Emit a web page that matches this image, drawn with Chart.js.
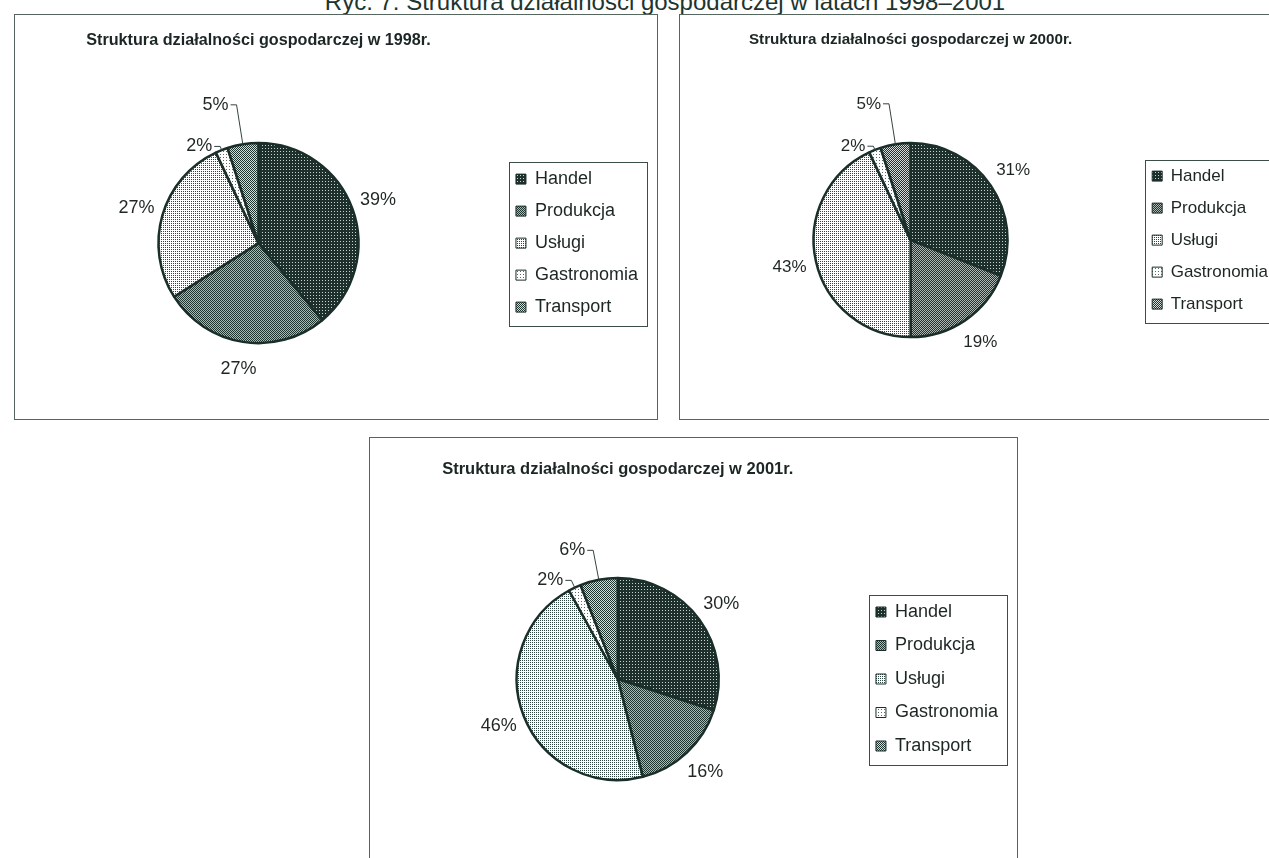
<!DOCTYPE html>
<html>
<head>
<meta charset="utf-8">
<script src="https://cdn.jsdelivr.net/npm/chart.js@4/dist/chart.umd.min.js"></script>
<style>
  html, body { margin:0; padding:0; background:#fff; }
  body { width:1269px; height:858px; overflow:hidden; position:relative; font-family:"Liberation Sans", Arial, sans-serif; }
  .panel { position:absolute; border:1px solid #56665f; box-sizing:border-box; background:#fff; overflow:hidden; }
  .panel canvas { position:absolute; left:0; top:0; }
  #caption { position:absolute; left:0; top:-12px; width:1330px; text-align:center; font-size:24px; color:#1d3530; white-space:nowrap; }
</style>
</head>
<body>
<div id="caption">Ryc. 7. Struktura działalności gospodarczej w latach 1998–2001</div>
<div class="panel" style="left:14px; top:14px; width:644px; height:406px;"><canvas id="c1" width="641" height="403"></canvas></div>
<div class="panel" style="left:679px; top:14px; width:640px; height:406px;"><canvas id="c2" width="620" height="403"></canvas></div>
<div class="panel" style="left:369px; top:437px; width:649px; height:480px;"><canvas id="c3" width="646" height="420"></canvas></div>
<script>
// ---- data ----
const categories = ['Handel', 'Produkcja', 'Usługi', 'Gastronomia', 'Transport'];
const titles = [
  'Struktura działalności gospodarczej w 1998r.',
  'Struktura działalności gospodarczej w 2000r.',
  'Struktura działalności gospodarczej w 2001r.'
];
const values1998 = [39, 27, 27, 2, 5];
const values2000 = [31, 19, 43, 2, 5];
const values2001 = [30, 16, 46, 2, 6];

// ---- styles ----
const INK = '#1a2e2a';
function makePattern(size, bg, fg, pts) {
  const c = document.createElement('canvas');
  c.width = size; c.height = size;
  const x = c.getContext('2d');
  x.fillStyle = bg; x.fillRect(0, 0, size, size);
  x.fillStyle = fg;
  pts.forEach(p => x.fillRect(p[0], p[1], 1, 1));
  return x.createPattern(c, 'repeat');
}
const fills = [
  makePattern(3, '#1d302b', '#c9d2ce', [[1,1]]),                 // Handel
  makePattern(2, '#aeb9b5', '#1f332e', [[0,0],[1,1]]),           // Produkcja
  makePattern(2, '#ffffff', '#2f4540', [[0,0]]),                 // Usługi
  makePattern(3, '#ffffff', '#5a6b65', [[1,1]]),                 // Gastronomia
  makePattern(2, '#d5dcd9', '#1f332e', [[0,0],[1,1]])            // Transport
];

const pieLabels = {
  id: 'pieLabels',
  afterDatasetsDraw(chart, args, opts) {
    const ctx = chart.ctx;
    const meta = chart.getDatasetMeta(0);
    const ds = chart.data.datasets[0];
    ctx.save();
    ctx.font = opts.font;
    ctx.fillStyle = opts.color;
    ctx.strokeStyle = opts.lineColor;
    ctx.lineWidth = 1;
    ctx.textBaseline = 'middle';
    meta.data.forEach((arc, i) => {
      const p = arc.getProps(['x','y','startAngle','endAngle','outerRadius'], true);
      const mid = (p.startAngle + p.endAngle) / 2;
      const dx = Math.cos(mid), dy = Math.sin(mid);
      const text = ds.data[i] + '%';
      const lead = opts.leaders[i];
      if (lead == null) {
        ctx.textAlign = 'center';
        ctx.fillText(text, p.x + dx * (p.outerRadius + opts.gap), p.y + dy * (p.outerRadius + opts.gap));
      } else {
        const ex = p.x + dx * p.outerRadius, ey = p.y + dy * p.outerRadius;
        const px = ex + dx * lead, py = ey + dy * lead;
        ctx.beginPath();
        ctx.moveTo(ex, ey); ctx.lineTo(px, py); ctx.lineTo(px - 6, py);
        ctx.stroke();
        ctx.textAlign = 'right';
        ctx.fillText(text, px - 8, py);
      }
    });
    ctx.restore();
  }
};

const legendFrame = {
  id: 'legendFrame',
  afterDraw(chart) {
    const hb = chart.legend.legendHitBoxes;
    if (!hb || !hb.length) return;
    let l = Infinity, t = Infinity, r = -Infinity, b = -Infinity;
    hb.forEach(h => { l = Math.min(l, h.left); t = Math.min(t, h.top); r = Math.max(r, h.left + h.width); b = Math.max(b, h.top + h.height); });
    const ctx = chart.ctx;
    ctx.save();
    ctx.strokeStyle = '#3c4e48';
    ctx.lineWidth = 1;
    ctx.strokeRect(Math.round(l - 7) + 0.5, Math.round(t - 8) + 0.5, Math.round(r - l + 16), Math.round(b - t + 18));
    ctx.restore();
  }
};

function makeChart(id, values, title, cfg) {
  const labelGen = Chart.overrides.doughnut.plugins.legend.labels.generateLabels;
  return new Chart(document.getElementById(id), {
    type: 'pie',
    data: {
      labels: categories,
      datasets: [{
        data: values,
        backgroundColor: fills,
        borderColor: INK,
        borderWidth: 2.5,
        radius: cfg.radius
      }]
    },
    plugins: [pieLabels, legendFrame],
    options: {
      responsive: false,
      maintainAspectRatio: false,
      animation: false,
      devicePixelRatio: 1,
      layout: { padding: cfg.padding },
      plugins: {
        tooltip: { enabled: false },
        title: {
          display: true,
          text: title,
          fullSize: false,
          color: '#1c2624',
          font: { family: '"Liberation Sans", Arial, sans-serif', size: cfg.titleSize, weight: 'bold', lineHeight: 1.2 },
          padding: cfg.titlePad
        },
        legend: {
          position: 'right',
          fullSize: false,
          labels: {
            boxWidth: 10,
            boxHeight: 10,
            padding: cfg.legendPad,
            color: '#1c2624',
            font: { family: '"Liberation Sans", Arial, sans-serif', size: cfg.legendSize },
            generateLabels(chart) {
              return labelGen(chart).map(it => Object.assign(it, { lineWidth: 1, strokeStyle: INK }));
            }
          }
        },
        pieLabels: {
          font: cfg.labelSize + 'px "Liberation Sans", Arial, sans-serif',
          color: '#1f2624',
          lineColor: '#33443f',
          gap: 27,
          leaders: cfg.leaders
        }
      }
    }
  });
}

makeChart('c1', values1998, titles[0], {
  radius: 100, padding: { left: 0, right: 8, top: 0, bottom: 10 },
  titleSize: 16.2, titlePad: { top: 16, bottom: 27.8 },
  legendPad: 14, legendSize: 18, labelSize: 18,
  leaders: [null, null, null, 4, 40]
});
makeChart('c2', values2000, titles[1], {
  radius: 97, padding: { left: 4, right: 22, top: 0, bottom: 10 },
  titleSize: 15.2, titlePad: { top: 16, bottom: 23 },
  legendPad: 15, legendSize: 17, labelSize: 17,
  leaders: [null, null, null, 4, 41]
});
makeChart('c3', values2001, titles[2], {
  radius: 101, padding: { left: 5, right: 8, top: 0, bottom: 10 },
  titleSize: 16.5, titlePad: { top: 22, bottom: 30.2 },
  legendPad: 15.5, legendSize: 18, labelSize: 18,
  leaders: [null, null, null, 8, 30]
});
</script>
</body>
</html>
